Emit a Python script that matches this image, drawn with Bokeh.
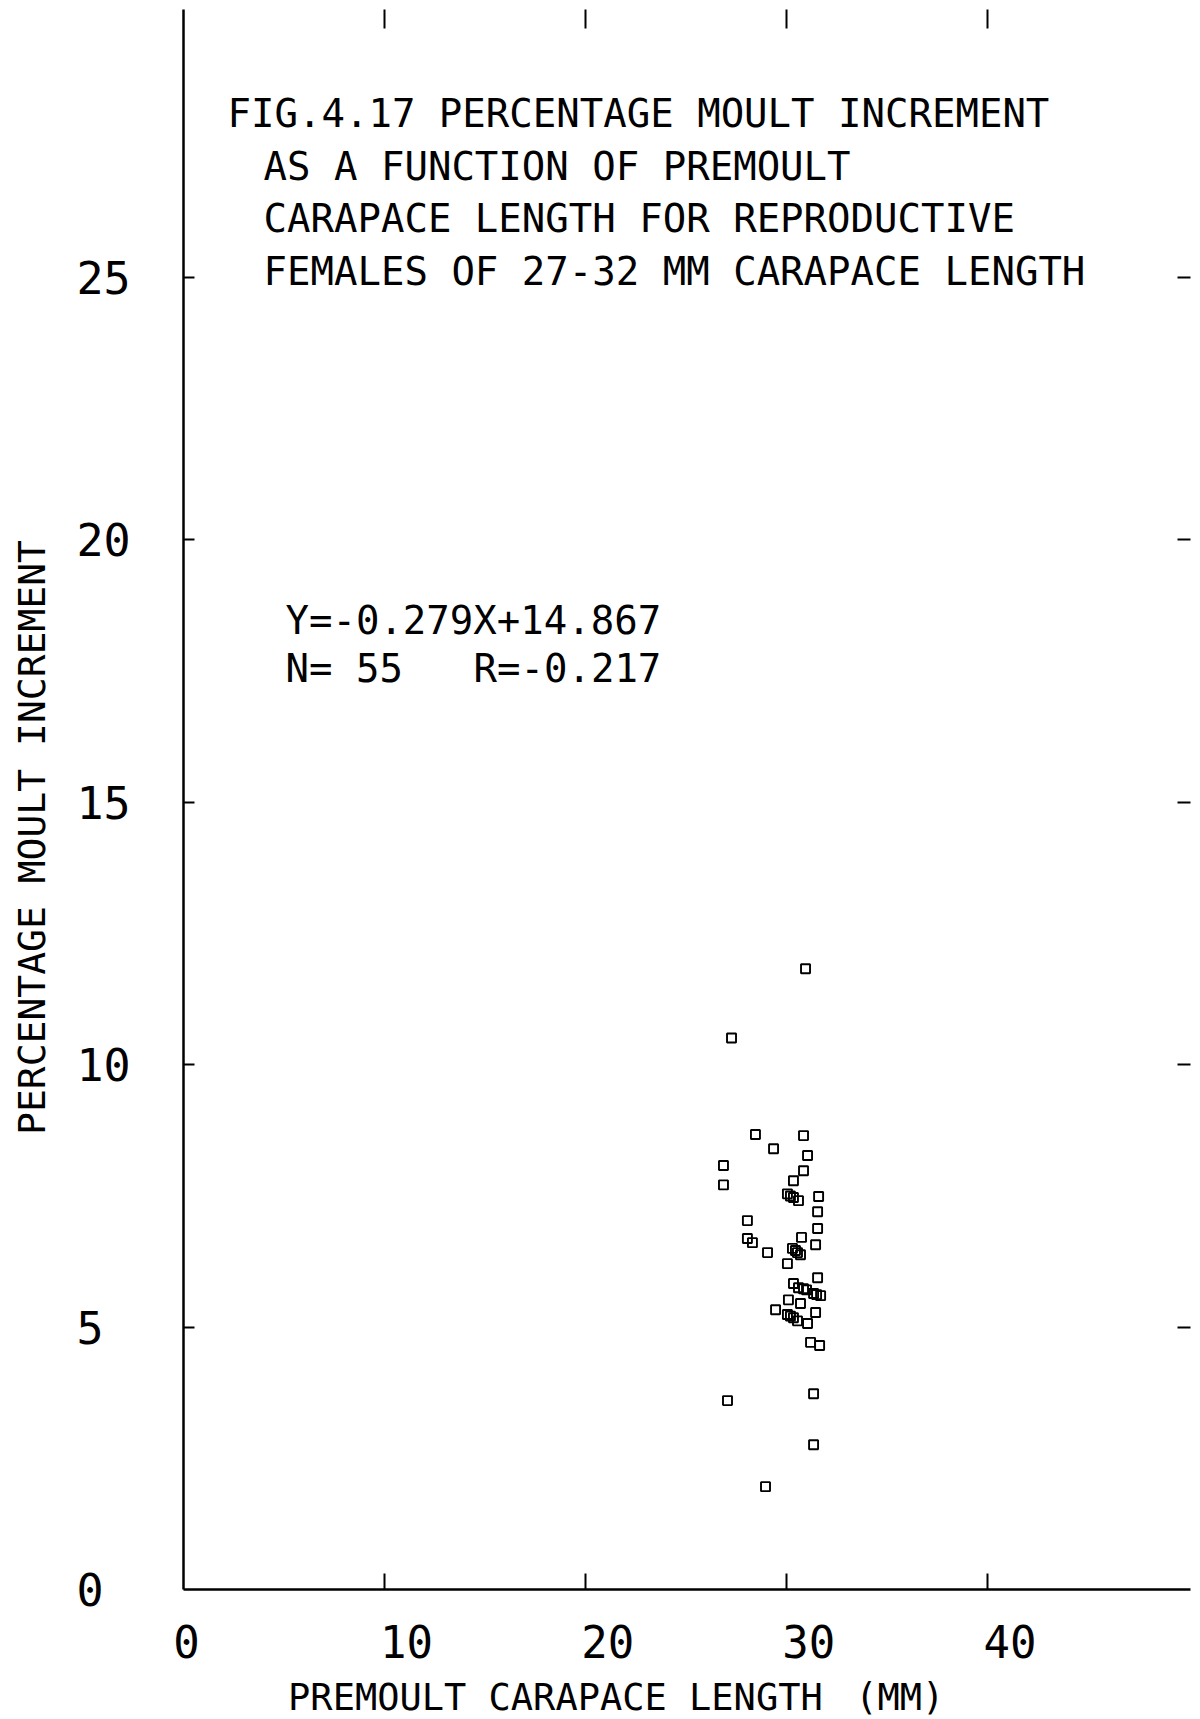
import math
from bokeh.plotting import figure
from bokeh.models import Range1d, FixedTicker, LinearAxis, Label
from bokeh.embed import file_html
from bokeh.resources import INLINE

# ---- data ----
premoult_len = [30.93, 27.25, 28.44, 30.83, 29.34, 31.03, 26.85, 30.83, 26.85, 30.33,
                30.03, 30.33, 30.58, 31.58, 31.53, 28.04, 31.53, 30.73, 28.04, 28.29,
                31.43, 30.28, 30.53, 30.68, 29.04, 30.03, 31.53, 30.33, 30.58, 30.98,
                31.33, 31.68, 30.08, 30.68, 29.44, 31.43, 30.03, 30.33, 30.53, 31.03,
                31.18, 31.63, 31.33, 27.05, 31.33, 28.94,
                30.18, 30.43, 31.48, 30.18, 30.83]
pct_increment = [11.83, 10.51, 8.67, 8.65, 8.40, 8.27, 8.08, 7.98, 7.71, 7.79,
                 7.54, 7.47, 7.41, 7.49, 7.20, 7.03, 6.88, 6.71, 6.69, 6.61,
                 6.57, 6.50, 6.42, 6.38, 6.42, 6.21, 5.94, 5.83, 5.75, 5.71,
                 5.64, 5.60, 5.52, 5.45, 5.33, 5.28, 5.24, 5.18, 5.12, 5.07,
                 4.71, 4.65, 3.73, 3.60, 2.76, 1.96,
                 7.50, 6.46, 5.62, 5.21, 5.73]

x_ticks = [0, 10, 20, 30, 40]
y_ticks = [0, 5, 10, 15, 20, 25]
title_lines = ["FIG.4.17 PERCENTAGE MOULT INCREMENT",
               "AS A FUNCTION OF PREMOULT",
               "CARAPACE LENGTH FOR REPRODUCTIVE",
               "FEMALES OF 27-32 MM CARAPACE LENGTH"]
eq_text = "Y=-0.279X+14.867"
n_text = "N= 55"
r_text = "R=-0.217"
x_title = "PREMOULT CARAPACE LENGTH"
x_unit = "(MM)"
y_title = "PERCENTAGE MOULT INCREMENT"

X_MAX, Y_MAX = 50.07, 30.1
FONT = "DejaVu Sans Mono"

p = figure(width=1200, height=1719, output_backend="svg", toolbar_location=None,
           x_range=Range1d(-9.10, 50.57), y_range=Range1d(-2.477, 30.28),
           x_axis_location=None, y_axis_location=None)
p.min_border_left = 0
p.min_border_right = 0
p.min_border_top = 0
p.min_border_bottom = 0
p.outline_line_color = None
p.grid.visible = False
p.background_fill_color = "white"
p.border_fill_color = "white"

def make_axis(ticks, tick_in, show_line, loc, bounds):
    ax = LinearAxis(ticker=FixedTicker(ticks=ticks), fixed_location=loc, bounds=bounds)
    ax.major_label_text_font_size = "0px"
    ax.major_label_text_alpha = 0
    ax.major_tick_in = tick_in
    ax.major_tick_out = 0
    ax.minor_tick_line_color = None
    ax.major_tick_line_width = 2
    ax.major_tick_line_color = "black"
    ax.axis_line_width = 2.5
    ax.axis_line_color = "black" if show_line else None
    return ax

p.add_layout(make_axis(y_ticks[1:], 11, True, 0, (0, Y_MAX)), "left")
p.add_layout(make_axis(x_ticks[1:], 16, True, 0, (0, X_MAX)), "below")
p.add_layout(make_axis(x_ticks[1:], 19, False, Y_MAX, (0, X_MAX)), "above")
p.add_layout(make_axis(y_ticks[1:], 13, False, X_MAX, (0, Y_MAX)), "right")

p.scatter(premoult_len, pct_increment, marker="square", size=9,
          fill_alpha=0, line_color="black", line_width=1.9)

# tick labels
for t in x_ticks:
    p.add_layout(Label(x=t, y=0, text=str(t), x_offset=(3 if t == 0 else 22), y_offset=-52,
                       text_align="center", text_baseline="middle",
                       text_font=FONT, text_font_size="44px", text_color="black"))
for t in y_ticks:
    p.add_layout(Label(x=0, y=t, text=str(t), x_offset=-107, y_offset=0,
                       text_align="left", text_baseline="middle",
                       text_font=FONT, text_font_size="45px", text_color="black"))

# title block
for i, line in enumerate(title_lines):
    p.add_layout(Label(x=2.19 if i == 0 else 3.98, y=28.12, y_offset=-52.5 * i, text=line,
                       text_align="left", text_baseline="middle",
                       text_font=FONT, text_font_size="39px", text_color="black"))

p.add_layout(Label(x=5.07, y=18.47, text=eq_text, text_align="left", text_baseline="middle",
                   text_font=FONT, text_font_size="39px", text_color="black"))
p.add_layout(Label(x=5.07, y=17.55, text=n_text, text_align="left", text_baseline="middle",
                   text_font=FONT, text_font_size="39px", text_color="black"))
p.add_layout(Label(x=14.42, y=17.55, text=r_text, text_align="left", text_baseline="middle",
                   text_font=FONT, text_font_size="39px", text_color="black"))

# axis titles
p.add_layout(Label(x=5.20, y=0, y_offset=-108, text=x_title,
                   text_align="left", text_baseline="middle",
                   text_font=FONT, text_font_size="37px", text_color="black"))
p.add_layout(Label(x=33.40, y=0, y_offset=-108, text=x_unit,
                   text_align="left", text_baseline="middle",
                   text_font=FONT, text_font_size="37px", text_color="black"))
p.add_layout(Label(x=0, y=14.33, x_offset=-152, text=y_title, angle=math.pi / 2,
                   text_align="center", text_baseline="middle",
                   text_font=FONT, text_font_size="38px", text_color="black"))

open("out.html", "w").write(file_html(p, INLINE))
